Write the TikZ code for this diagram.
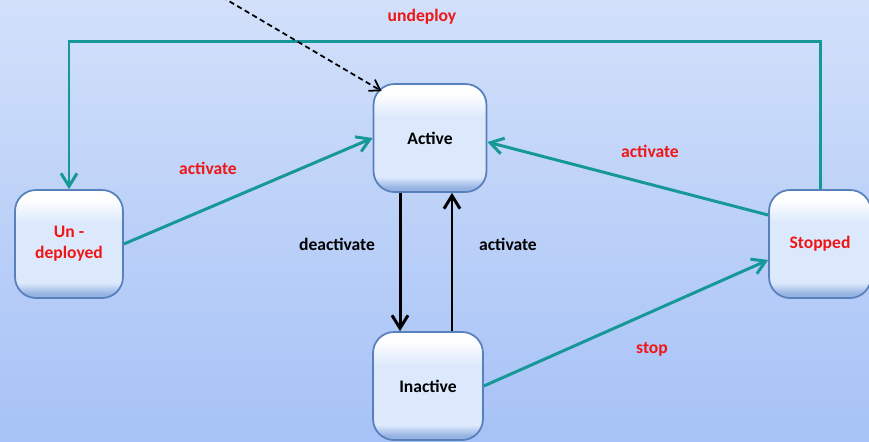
\documentclass[tikz,border=0pt]{standalone}
\usepackage{fontspec}
\setmainfont{Carlito}
\usepackage{tikz}
\usetikzlibrary{arrows.meta}
\usepackage{xcolor}
\definecolor{edgeteal}{RGB}{22,152,152}
\definecolor{labelred}{RGB}{238,22,22}
\definecolor{boxline}{RGB}{88,128,188}
\definecolor{boxlow}{RGB}{150,180,226}
\definecolor{boxmid}{RGB}{220,233,252}
\definecolor{bgtop}{RGB}{210,224,250}
\definecolor{bgbottom}{RGB}{166,194,246}
\pgfdeclareverticalshading{statebox}{100bp}{color(0bp)=(boxlow); color(27bp)=(boxlow);
	color(32bp)=(boxmid); color(60bp)=(boxmid); color(71bp)=(white); color(100bp)=(white)}

\begin{document}
\begin{tikzpicture}[x=0.02cm,y=-0.02cm,
		state/.style={draw=boxline,line width=1pt,rounded corners=0.42cm,shading=statebox,
			minimum height=2.16cm,align=center,font=\fontsize{10}{12}\selectfont\bfseries},
		trans/.style={edgeteal,line width=1.7pt,-{Straight Barb[length=2.6mm,width=3.2mm]}},
		flow/.style={black,line width=1.7pt,-{Straight Barb[length=2.6mm,width=3.2mm]}},
		lbl/.style={font=\fontsize{10}{12}\selectfont\bfseries}]
		\useasboundingbox[top color=bgtop,bottom color=bgbottom] (0,0) rectangle (869,441);
		
		\node[state,minimum width=2.26cm] (active) at (430,138) {Active};
		\node[state,minimum width=2.16cm,text=labelred] (undeployed) at (69,244) {Un -\\deployed};
		\node[state,minimum width=2.2cm] (inactive) at (428,386) {Inactive};
		\node[state,minimum width=2.04cm,text=labelred] (stopped) at (820,244) {Stopped};
		
		\coordinate (rail) at (0,41);
		\coordinate (origin) at (222,-3);
		
		\draw[trans] (stopped.north) |- (undeployed.north |- rail) -- (undeployed.north);
		\node[lbl,text=labelred] (undeploylbl) at (422,17) {undeploy};
		
		\draw[trans] (undeployed.east) -- (active.west);
		\node[lbl,text=labelred] (activatelbl) at (208,168) {activate};
		
		\draw[trans] ([yshift=0.58cm]stopped.west) -- ([yshift=-0.08cm]active.east);
		\node[lbl,text=labelred] (reactivatelbl) at (650,151) {activate};
		
		\draw[trans] (inactive.east) -- ([yshift=-0.32cm]stopped.west);
		\node[lbl,text=labelred] (stoplbl) at (652,349) {stop};
		
		\draw[flow] ([xshift=-0.6cm]active.south) -- ([xshift=-0.6cm]active.south |- inactive.north);
		\node[lbl] (deactivatelbl) at (337,244) {deactivate};
		
		\draw[flow] ([xshift=0.48cm]inactive.north) -- ([xshift=0.48cm]inactive.north |- active.south);
		\node[lbl] (upactivatelbl) at (508,244) {activate};
		
		% entry into the Active state
		\draw[line width=1pt,dash pattern=on 3pt off 2pt,-{Straight Barb[length=2mm,width=2.6mm]}]
		(origin) -- ([shift={(0.18cm,-0.16cm)}]active.north west);
	\end{tikzpicture}
\end{document}
